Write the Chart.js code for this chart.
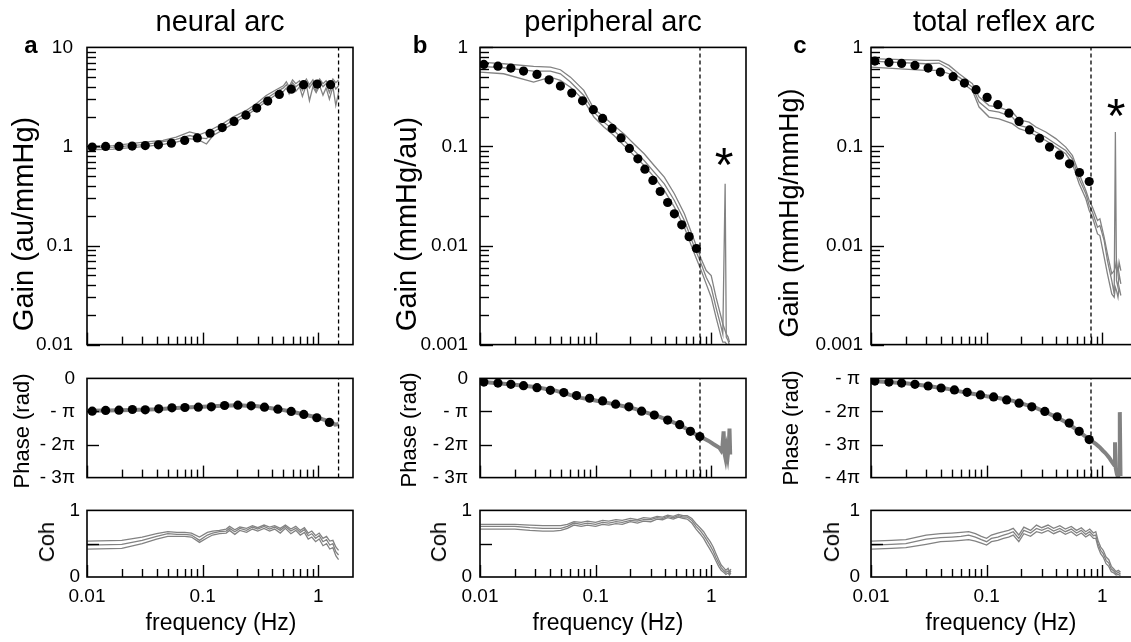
<!DOCTYPE html>
<html>
<head>
<meta charset="utf-8">
<title>neural, peripheral and total reflex arc transfer functions</title>
<script src="https://cdn.jsdelivr.net/npm/chart.js@4.4.1/dist/chart.umd.min.js"></script>
<style>
html, body { margin: 0; padding: 0; overflow: hidden; background: #fff; }
body { width: 1131px; height: 642px; position: relative; font-family: "Liberation Sans", Arial, sans-serif; color: #000; }
canvas { position: absolute; }
.txt { position: absolute; white-space: nowrap; line-height: 1; }
.ctr { transform: translateX(-50%); }
.vert { transform: translate(-50%, -50%) rotate(-90deg); }
</style>
</head>
<body>
<canvas id="gainA"></canvas><canvas id="phaseA"></canvas><canvas id="cohA"></canvas>
<canvas id="gainB"></canvas><canvas id="phaseB"></canvas><canvas id="cohB"></canvas>
<canvas id="gainC"></canvas><canvas id="phaseC"></canvas><canvas id="cohC"></canvas>

<div class="txt ctr" style="left:220px;top:7px;font-size:29px">neural arc</div>
<div class="txt ctr" style="left:613px;top:7px;font-size:29px">peripheral arc</div>
<div class="txt ctr" style="left:1004px;top:7px;font-size:29px">total reflex arc</div>

<div class="txt ctr" style="left:31px;top:33px;font-size:24px;font-weight:bold">a</div>
<div class="txt ctr" style="left:420px;top:33px;font-size:24px;font-weight:bold">b</div>
<div class="txt ctr" style="left:800px;top:33px;font-size:24px;font-weight:bold">c</div>

<div class="txt vert" style="left:23px;top:224px;font-size:29px">Gain (au/mmHg)</div>
<div class="txt vert" style="left:406px;top:224px;font-size:29px">Gain (mmHg/au)</div>
<div class="txt vert" style="left:789px;top:213px;font-size:27px">Gain (mmHg/mmHg)</div>

<div class="txt vert" style="left:22px;top:431px;font-size:22px">Phase (rad)</div>
<div class="txt vert" style="left:409px;top:430px;font-size:22px">Phase (rad)</div>
<div class="txt vert" style="left:791px;top:428px;font-size:22px">Phase (rad)</div>

<div class="txt vert" style="left:47px;top:542px;font-size:22px">Coh</div>
<div class="txt vert" style="left:439px;top:542px;font-size:22px">Coh</div>
<div class="txt vert" style="left:832px;top:542px;font-size:22px">Coh</div>

<div class="txt ctr" style="left:221px;top:611px;font-size:23px">frequency (Hz)</div>
<div class="txt ctr" style="left:608px;top:611px;font-size:23px">frequency (Hz)</div>
<div class="txt ctr" style="left:1001px;top:611px;font-size:23px">frequency (Hz)</div>

<div class="txt ctr" style="left:724px;top:141px;font-size:48px">*</div>
<div class="txt ctr" style="left:1116px;top:92px;font-size:48px">*</div>

<script>
// ---- frequency axis (Hz) ----
const freqTickVals = [0.01, 0.1, 1];
const freqTickText = ['0.01', '0.1', '1'];
const decadeStarts = [0.001, 0.01, 0.1, 1];
const logSteps = [2, 3, 4, 5, 6, 7, 8, 9];

// ---- a: neural arc ----
const neuralCutoff = 1.5;
const neuralGainFreq = [0.0111,0.0145,0.0189,0.0246,0.0319,0.0415,0.0537,0.070,0.090,0.116,0.148,0.187,0.237,0.294,0.366,0.461,0.585,0.748,0.98,1.28];
const neuralGainMean = [0.985,1.0,1.0,1.01,1.02,1.04,1.08,1.15,1.22,1.36,1.55,1.79,2.07,2.44,2.87,3.35,3.79,4.20,4.26,4.20];
const neuralGainTraceFreq = [0.0102,0.0168,0.0326,0.0454,0.0591,0.0772,0.0942,0.108,0.123,0.150,0.183,0.238,0.291,0.355,0.433,0.50,0.53,0.56,0.60,0.64,0.69,0.73,0.79,0.84,0.90,0.96,1.03,1.10,1.17,1.25,1.34,1.42,1.50];
const neuralGainUpper = [1.0,1.02,1.11,1.15,1.24,1.40,1.32,1.40,1.51,1.70,1.98,2.31,2.70,3.27,3.74,4.1,4.5,4.0,4.7,4.3,4.6,4.1,4.8,4.2,4.7,4.0,4.8,4.3,4.6,4.1,4.8,4.4,4.7];
const neuralGainMid = [0.97,0.985,1.05,1.12,1.18,1.29,1.22,1.20,1.40,1.59,1.83,2.17,2.54,3.03,3.54,3.9,4.2,3.8,4.4,4.0,4.3,3.7,4.5,3.9,4.4,3.6,4.5,4.0,4.3,3.5,4.4,3.8,4.1];
const neuralGainLower = [0.925,0.94,1.0,1.05,1.106,1.20,1.15,1.06,1.29,1.47,1.70,2.04,2.40,2.85,3.35,3.6,3.9,3.4,4.1,3.6,4.0,3.2,4.2,2.9,4.0,3.5,4.1,3.3,3.9,3.0,4.0,2.6,3.5];
// phase in units of pi rad
const neuralPhaseFreq = [0.0111,0.0145,0.0189,0.0247,0.0319,0.0417,0.0543,0.0703,0.0918,0.119,0.155,0.202,0.263,0.343,0.448,0.584,0.751,0.973,1.25];
const neuralPhaseMean = [-0.99,-0.97,-0.96,-0.94,-0.95,-0.92,-0.89,-0.88,-0.87,-0.86,-0.82,-0.81,-0.83,-0.87,-0.93,-1.0,-1.09,-1.19,-1.33];
const neuralPhaseTraceFreq = [0.0101,0.02,0.04,0.07,0.1,0.15,0.2,0.3,0.45,0.6,0.75,0.9,1.0,1.1,1.2,1.3,1.4,1.5];
const neuralPhaseTrace = [-0.98,-0.96,-0.93,-0.88,-0.86,-0.83,-0.81,-0.84,-0.93,-1.01,-1.09,-1.15,-1.19,-1.24,-1.28,-1.31,-1.40,-1.38];
const neuralCohFreq = [0.0101,0.02,0.03,0.04,0.05,0.06,0.07,0.08,0.094,0.11,0.122,0.14,0.16,0.171,0.19,0.21,0.24,0.27,0.3,0.34,0.38,0.42,0.47,0.52,0.58,0.64,0.7,0.76,0.82,0.88,0.95,1.02,1.1,1.18,1.26,1.34,1.42,1.5];
const neuralCohUpper = [0.54,0.55,0.60,0.65,0.68,0.67,0.67,0.66,0.60,0.67,0.69,0.70,0.72,0.76,0.71,0.75,0.73,0.77,0.74,0.78,0.75,0.77,0.73,0.78,0.72,0.76,0.70,0.74,0.66,0.69,0.62,0.66,0.58,0.61,0.54,0.55,0.45,0.40];
const neuralCohMid = [0.48,0.49,0.55,0.61,0.65,0.64,0.64,0.63,0.55,0.63,0.66,0.68,0.69,0.73,0.68,0.73,0.70,0.75,0.72,0.76,0.72,0.75,0.70,0.76,0.69,0.73,0.67,0.71,0.62,0.65,0.58,0.62,0.53,0.56,0.48,0.50,0.38,0.33];
const neuralCohLower = [0.42,0.43,0.50,0.57,0.61,0.61,0.61,0.60,0.52,0.59,0.63,0.65,0.66,0.70,0.64,0.70,0.67,0.72,0.69,0.73,0.69,0.72,0.66,0.73,0.65,0.70,0.63,0.67,0.57,0.60,0.53,0.57,0.47,0.50,0.42,0.44,0.32,0.26];

// ---- b: peripheral arc ----
const periphCutoff = 0.8;
const periphGainFreq = [0.0108,0.0143,0.0185,0.0238,0.0311,0.0396,0.0496,0.0622,0.0771,0.0955,0.115,0.139,0.166,0.196,0.232,0.267,0.313,0.362,0.420,0.480,0.556,0.644,0.745];
const periphGainMean = [0.673,0.647,0.618,0.577,0.534,0.471,0.407,0.346,0.289,0.235,0.192,0.152,0.122,0.0955,0.0751,0.059,0.0454,0.0351,0.0272,0.0209,0.0162,0.0123,0.00933];
const periphGainTraceFreq = [0.01,0.016,0.0291,0.0406,0.0496,0.0606,0.0791,0.0967,0.118,0.144,0.176,0.215,0.263,0.321,0.393,0.480,0.586,0.716,0.819,0.905,1.0,1.10,1.22,1.26,1.32,1.35,1.40,1.44];
const periphGainUpper = [0.711,0.684,0.643,0.633,0.595,0.501,0.368,0.240,0.198,0.163,0.134,0.106,0.0843,0.0643,0.0490,0.0333,0.0209,0.0112,0.00733,0.00559,0.00497,0.00301,0.00189,0.00162,0.00138,0.00128,0.00119,0.00106];
const periphGainMid = [0.643,0.623,0.577,0.577,0.542,0.447,0.327,0.222,0.176,0.145,0.115,0.0911,0.0722,0.0550,0.0420,0.0285,0.0179,0.00962,0.00653,0.00479,0.00379,0.00238,0.0015,0.00128,0.042,0.00119,0.0011,0.00098];
const periphGainLower = [0.564,0.542,0.447,0.501,0.464,0.397,0.292,0.198,0.157,0.129,0.102,0.0811,0.0643,0.0490,0.0360,0.0244,0.0153,0.00824,0.00559,0.0041,0.00301,0.00189,0.00119,0.00106,0.00106,0.00102,0.00098,0.00094];
const periphPhaseFreq = [0.0108,0.0143,0.0185,0.0238,0.0311,0.0406,0.0531,0.0684,0.0887,0.115,0.149,0.194,0.250,0.322,0.420,0.534,0.661,0.797];
const periphPhaseMean = [-0.11,-0.14,-0.18,-0.22,-0.28,-0.36,-0.43,-0.52,-0.60,-0.68,-0.78,-0.86,-0.99,-1.11,-1.26,-1.40,-1.60,-1.76];
const periphPhaseTraceFreq = [0.0101,0.02,0.03,0.045,0.06,0.075,0.09,0.11,0.14,0.18,0.22,0.28,0.35,0.45,0.55,0.65,0.75,0.85,0.95,1.05,1.12,1.18,1.22,1.25,1.28,1.30,1.33,1.36,1.39,1.42,1.44,1.46];
const periphPhaseTrace = [-0.10,-0.19,-0.26,-0.37,-0.50,-0.59,-0.64,-0.70,-0.77,-0.85,-0.92,-1.04,-1.15,-1.30,-1.43,-1.58,-1.71,-1.80,-1.89,-1.99,-2.05,-2.10,-2.18,-2.08,-1.60,-2.25,-2.42,-2.15,-2.35,-2.05,-1.52,-2.30];
const periphCohFreq = [0.0101,0.015,0.02,0.027,0.035,0.043,0.05,0.057,0.065,0.075,0.085,0.1,0.115,0.13,0.15,0.17,0.2,0.23,0.26,0.3,0.34,0.38,0.42,0.47,0.52,0.57,0.62,0.68,0.74,0.8,0.86,0.92,0.98,1.04,1.1,1.16,1.22,1.28,1.34,1.40,1.44,1.48];
const periphCohUpper = [0.79,0.79,0.79,0.78,0.77,0.77,0.77,0.79,0.83,0.82,0.84,0.82,0.85,0.84,0.86,0.85,0.88,0.86,0.89,0.88,0.91,0.90,0.93,0.91,0.94,0.92,0.92,0.88,0.80,0.74,0.68,0.60,0.53,0.45,0.35,0.26,0.18,0.14,0.10,0.13,0.08,0.12];
const periphCohMid = [0.76,0.76,0.76,0.74,0.73,0.73,0.73,0.76,0.81,0.79,0.81,0.79,0.82,0.81,0.83,0.82,0.85,0.84,0.86,0.86,0.89,0.88,0.91,0.89,0.92,0.90,0.90,0.85,0.76,0.70,0.63,0.55,0.47,0.39,0.29,0.21,0.14,0.10,0.07,0.09,0.05,0.09];
const periphCohLower = [0.72,0.72,0.72,0.70,0.69,0.69,0.70,0.73,0.78,0.76,0.78,0.76,0.79,0.78,0.80,0.79,0.83,0.81,0.84,0.83,0.87,0.86,0.89,0.87,0.90,0.88,0.87,0.81,0.72,0.65,0.58,0.49,0.41,0.33,0.24,0.16,0.10,0.07,0.04,0.06,0.03,0.06];

// ---- c: total reflex arc ----
const totalCutoff = 0.8;
const totalGainFreq = [0.0108,0.0143,0.0184,0.0240,0.0312,0.0398,0.0513,0.0643,0.0811,0.101,0.125,0.156,0.191,0.235,0.287,0.350,0.427,0.521,0.636,0.772];
const totalGainMean = [0.728,0.705,0.689,0.658,0.618,0.564,0.506,0.436,0.374,0.313,0.264,0.217,0.179,0.147,0.121,0.0985,0.0817,0.0668,0.0546,0.0443];
const totalGainTraceFreq = [0.01,0.0297,0.0388,0.0473,0.0578,0.0754,0.0861,0.105,0.128,0.167,0.191,0.233,0.267,0.325,0.397,0.484,0.553,0.632,0.722,0.772,0.824,0.911,0.955,1.04,1.11,1.21,1.27,1.30,1.33,1.37,1.40,1.45];
const totalGainUpper = [0.769,0.739,0.739,0.658,0.542,0.430,0.315,0.259,0.250,0.222,0.186,0.176,0.157,0.140,0.120,0.0985,0.0811,0.0530,0.0360,0.0285,0.0244,0.0179,0.0186,0.0121,0.00824,0.00518,0.00559,0.00604,0.00705,0.00518,0.00679,0.00559];
const totalGainMid = [0.728,0.684,0.695,0.609,0.501,0.397,0.281,0.231,0.222,0.198,0.163,0.154,0.140,0.124,0.106,0.0911,0.0750,0.0471,0.0333,0.0254,0.0217,0.0153,0.0159,0.0112,0.00705,0.00443,0.00325,0.140,0.00443,0.00379,0.00518,0.0041];
const totalGainLower = [0.633,0.586,0.586,0.542,0.464,0.368,0.250,0.198,0.190,0.170,0.151,0.140,0.129,0.115,0.0985,0.0843,0.0668,0.0420,0.0296,0.0226,0.0193,0.0131,0.0126,0.00762,0.00518,0.00325,0.00301,0.00379,0.00351,0.00301,0.00379,0.00313];
const totalPhaseFreq = [0.0108,0.0143,0.0184,0.0240,0.0312,0.0404,0.0527,0.0678,0.0884,0.115,0.149,0.191,0.246,0.319,0.408,0.518,0.632,0.772];
const totalPhaseMean = [-1.08,-1.11,-1.14,-1.18,-1.23,-1.29,-1.35,-1.42,-1.50,-1.56,-1.65,-1.75,-1.86,-2.0,-2.16,-2.35,-2.60,-2.85];
const totalPhaseTraceFreq = [0.0101,0.02,0.03,0.045,0.06,0.08,0.1,0.13,0.17,0.22,0.27,0.33,0.4,0.5,0.6,0.7,0.8,0.88,0.95,1.01,1.06,1.11,1.15,1.19,1.23,1.27,1.29,1.31,1.34,1.37,1.40,1.42,1.44];
const totalPhaseTrace = [-1.08,-1.15,-1.22,-1.31,-1.40,-1.48,-1.54,-1.60,-1.68,-1.80,-1.90,-2.03,-2.17,-2.35,-2.55,-2.73,-2.88,-2.98,-3.08,-3.18,-3.25,-3.33,-3.40,-3.48,-3.55,-3.62,-2.93,-3.72,-3.90,-3.98,-3.85,-2.02,-3.95];
const totalCohFreq = [0.0101,0.015,0.02,0.03,0.04,0.05,0.06,0.07,0.08,0.09,0.1,0.11,0.125,0.14,0.155,0.17,0.19,0.21,0.24,0.27,0.3,0.34,0.38,0.43,0.48,0.54,0.6,0.66,0.72,0.78,0.84,0.88,0.92,0.97,1.02,1.08,1.14,1.2,1.26,1.32,1.38,1.44];
const totalCohUpper = [0.54,0.55,0.56,0.63,0.65,0.66,0.67,0.68,0.65,0.61,0.58,0.63,0.66,0.68,0.70,0.73,0.63,0.75,0.70,0.78,0.74,0.78,0.73,0.77,0.72,0.76,0.70,0.74,0.68,0.72,0.66,0.68,0.55,0.45,0.40,0.30,0.26,0.16,0.12,0.08,0.10,0.07];
const totalCohMid = [0.48,0.49,0.50,0.57,0.59,0.60,0.61,0.63,0.60,0.56,0.53,0.58,0.60,0.63,0.65,0.68,0.58,0.70,0.66,0.73,0.70,0.74,0.69,0.73,0.68,0.72,0.66,0.70,0.64,0.68,0.62,0.63,0.50,0.40,0.35,0.25,0.21,0.12,0.09,0.05,0.07,0.04];
const totalCohLower = [0.42,0.43,0.44,0.49,0.53,0.54,0.55,0.56,0.54,0.51,0.48,0.53,0.55,0.58,0.60,0.63,0.53,0.65,0.61,0.68,0.66,0.70,0.65,0.69,0.64,0.68,0.62,0.66,0.60,0.64,0.58,0.58,0.45,0.35,0.30,0.20,0.16,0.08,0.06,0.03,0.04,0.02];

// y tick labels
const phaseTicksAB = [0, -1, -2, -3];
const phaseLabelsAB = ['0', '- \u03c0', '- 2\u03c0', '- 3\u03c0'];
const phaseTicksC = [-1, -2, -3, -4];
const phaseLabelsC = ['- \u03c0', '- 2\u03c0', '- 3\u03c0', '- 4\u03c0'];
const cohTicks = [0, 1];
const cohLabels = ['0', '1'];

// ---- layout ----
const YW = 70, PLOT_W = 266, PAD = 4, XH = 38;
const colLeft = { a: 87, b: 480, c: 871 };
const rowTop = { gain: 47, phase: 378, coh: 510 };
const rowH = { gain: 297, phase: 99, coh: 67 };
const GRAY = '#828282';

Chart.defaults.font.family = "'Liberation Sans', Arial, sans-serif";
Chart.defaults.color = '#000';

// box round the plot and the inward tick marks
const framePlugin = {
    id: 'frame',
    afterDatasetsDraw(chart, args, opts) {
        const ctx = chart.ctx;
        const a = chart.chartArea;
        const sx = chart.scales.x, sy = chart.scales.y;
        ctx.save();
        ctx.strokeStyle = '#000';
        ctx.lineWidth = 1.4;
        opts.xMarks.forEach(function(m){
            const px = Math.round(sx.getPixelForValue(m.v)) + 0.5;
            ctx.beginPath(); ctx.moveTo(px, a.bottom); ctx.lineTo(px, a.bottom - m.len); ctx.stroke();
        });
        opts.yMarks.forEach(function(m){
            const py = Math.round(sy.getPixelForValue(m.v)) + 0.5;
            ctx.beginPath(); ctx.moveTo(a.left, py); ctx.lineTo(a.left + m.len, py); ctx.stroke();
        });
        ctx.lineWidth = 1.6;
        ctx.strokeRect(a.left, a.top, a.right - a.left, a.bottom - a.top);
        ctx.restore();
    }
};

function logMarks(lo, hi, majorLen, minorLen){
    const out = [];
    decadeStarts.forEach(function(d){
        if (d >= lo && d <= hi) out.push({ v: d, len: majorLen });
        logSteps.forEach(function(m){
            const v = d * m;
            if (v > lo && v < hi) out.push({ v: v, len: minorLen });
        });
    });
    return out;
}
const xMarks = logMarks(0.01, 2, 12, 8);

function pts(xs, ys){ return xs.map(function(x, i){ return { x: x, y: ys[i] }; }); }
function dotSet(xs, ys){
    return { data: pts(xs, ys), showLine: false, pointRadius: 4.6, pointBackgroundColor: '#000', pointBorderWidth: 0, borderColor: '#000' };
}
function traceSet(xs, ys, w){
    return { data: pts(xs, ys), borderColor: GRAY, borderWidth: w || 1.3, pointRadius: 0, tension: 0 };
}
function cutSet(f, lo, hi){
    return { data: [{ x: f, y: lo }, { x: f, y: hi }], borderColor: '#000', borderWidth: 1.3, borderDash: [4, 3], pointRadius: 0 };
}

function sizeCanvas(cv, w, h, left, top){
    cv.width = w; cv.height = h;
    cv.style.width = w + 'px'; cv.style.height = h + 'px';
    cv.style.left = left + 'px'; cv.style.top = top + 'px';
}

function panel(id, col, row, yScale, yMarks, datasets, tickPad){
    const isCoh = row === 'coh';
    const cv = document.getElementById(id);
    const w = YW + PLOT_W + 6;

    yScale.afterFit = function(s){ s.width = YW; };
    yScale.grid = { display: false, drawTicks: false };
    yScale.border = { display: false };
    yScale.ticks.padding = tickPad;
    yScale.ticks.font = { size: 19 };
    yScale.ticks.autoSkip = false;

    const xScale = {
        type: 'logarithmic', min: 0.01, max: 2, display: isCoh,
        afterBuildTicks: function(s){ s.ticks = freqTickVals.map(function(v){ return { value: v }; }); },
        grid: { display: false, drawTicks: false },
        border: { display: false },
        ticks: { autoSkip: false, maxRotation: 0, padding: 8, font: { size: 19 },
                 callback: function(v, i){ return freqTickText[i]; } }
    };
    if (isCoh) xScale.afterFit = function(s){ s.height = XH; };

    const config = {
        type: 'line',
        data: { datasets: datasets },
        options: {
            responsive: false, maintainAspectRatio: false, animation: false, events: [],
            layout: { padding: { left: 0, top: PAD, right: 6, bottom: isCoh ? 0 : PAD } },
            plugins: { legend: { display: false }, tooltip: { enabled: false },
                       frame: { xMarks: xMarks, yMarks: yMarks } },
            scales: { x: xScale, y: yScale }
        },
        plugins: [framePlugin]
    };

    // first pass measures the space the library keeps round the plot area
    let h = 200;
    sizeCanvas(cv, w, h, 0, 0);
    let chart = new Chart(cv, config);
    const above = chart.chartArea.top;
    const below = h - chart.chartArea.bottom;
    chart.destroy();

    // second pass: plot area lands on the reference position and size
    h = Math.round(above + rowH[row] + below);
    sizeCanvas(cv, w, h, colLeft[col] - YW, rowTop[row] - above);
    return new Chart(cv, config);
}

function gainScale(lo, hi){
    const ticks = decadeStarts.concat([10]).filter(function(v){ return v >= lo && v <= hi; });
    return {
        type: 'logarithmic', min: lo, max: hi,
        afterBuildTicks: function(s){ s.ticks = ticks.map(function(v){ return { value: v }; }); },
        ticks: { callback: function(v){ return String(v); } }
    };
}
function listScale(lo, hi, vals, labels){
    return {
        type: 'linear', min: lo, max: hi,
        afterBuildTicks: function(s){ s.ticks = vals.map(function(v){ return { value: v }; }); },
        ticks: { callback: function(v, i){ return labels[i]; } }
    };
}
const cohMarks = [{ v: 0.5, len: 12 }];

// ---- a ----
panel('gainA', 'a', 'gain', gainScale(0.01, 10), logMarks(0.01, 10, 13, 9), [
    dotSet(neuralGainFreq, neuralGainMean),
    cutSet(neuralCutoff, 0.01, 10),
    traceSet(neuralGainTraceFreq, neuralGainUpper),
    traceSet(neuralGainTraceFreq, neuralGainMid),
    traceSet(neuralGainTraceFreq, neuralGainLower)
], 14);
panel('phaseA', 'a', 'phase', listScale(-3, 0, phaseTicksAB, phaseLabelsAB), [{ v: -1, len: 12 }, { v: -2, len: 12 }], [
    dotSet(neuralPhaseFreq, neuralPhaseMean),
    cutSet(neuralCutoff, -3, 0),
    traceSet(neuralPhaseTraceFreq, neuralPhaseTrace, 4)
], 12);
panel('cohA', 'a', 'coh', listScale(0, 1, cohTicks, cohLabels), cohMarks, [
    traceSet(neuralCohFreq, neuralCohUpper),
    traceSet(neuralCohFreq, neuralCohMid),
    traceSet(neuralCohFreq, neuralCohLower)
], 7);

// ---- b ----
panel('gainB', 'b', 'gain', gainScale(0.001, 1), logMarks(0.001, 1, 13, 9), [
    dotSet(periphGainFreq, periphGainMean),
    cutSet(periphCutoff, 0.001, 1),
    traceSet(periphGainTraceFreq, periphGainUpper),
    traceSet(periphGainTraceFreq, periphGainMid),
    traceSet(periphGainTraceFreq, periphGainLower)
], 12);
panel('phaseB', 'b', 'phase', listScale(-3, 0, phaseTicksAB, phaseLabelsAB), [{ v: -1, len: 12 }, { v: -2, len: 12 }], [
    dotSet(periphPhaseFreq, periphPhaseMean),
    cutSet(periphCutoff, -3, 0),
    traceSet(periphPhaseTraceFreq, periphPhaseTrace, 4)
], 12);
panel('cohB', 'b', 'coh', listScale(0, 1, cohTicks, cohLabels), cohMarks, [
    traceSet(periphCohFreq, periphCohUpper),
    traceSet(periphCohFreq, periphCohMid),
    traceSet(periphCohFreq, periphCohLower)
], 8);

// ---- c ----
panel('gainC', 'c', 'gain', gainScale(0.001, 1), logMarks(0.001, 1, 13, 9), [
    dotSet(totalGainFreq, totalGainMean),
    cutSet(totalCutoff, 0.001, 1),
    traceSet(totalGainTraceFreq, totalGainUpper),
    traceSet(totalGainTraceFreq, totalGainMid),
    traceSet(totalGainTraceFreq, totalGainLower)
], 8);
panel('phaseC', 'c', 'phase', listScale(-4, -1, phaseTicksC, phaseLabelsC), [{ v: -2, len: 12 }, { v: -3, len: 12 }], [
    dotSet(totalPhaseFreq, totalPhaseMean),
    cutSet(totalCutoff, -4, -1),
    traceSet(totalPhaseTraceFreq, totalPhaseTrace, 4)
], 11);
panel('cohC', 'c', 'coh', listScale(0, 1, cohTicks, cohLabels), cohMarks, [
    traceSet(totalCohFreq, totalCohUpper),
    traceSet(totalCohFreq, totalCohMid),
    traceSet(totalCohFreq, totalCohLower)
], 11);
</script>
</body>
</html>
